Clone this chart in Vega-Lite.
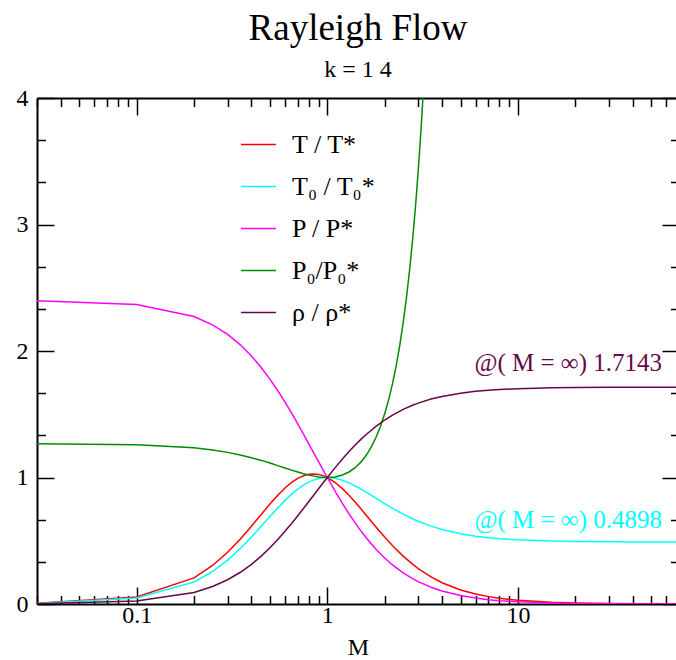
{
  "$schema": "https://vega.github.io/schema/vega-lite/v6.json",
  "width": 642,
  "height": 506,
  "autosize": "none",
  "padding": {"left": 37, "top": 98, "right": 0, "bottom": 60},
  "background": "white",
  "title": {
    "text": "Rayleigh Flow",
    "subtitle": "k = 1 4",
    "font": "Liberation Serif",
    "fontSize": 37,
    "fontWeight": "normal",
    "color": "black",
    "subtitleFont": "Liberation Serif",
    "subtitleFontSize": 24,
    "subtitleColor": "black",
    "anchor": "middle",
    "offset": 3,
    "subtitlePadding": 10
  },
  "config": {
    "view": {"stroke": null},
    "axis": {
      "grid": false,
      "domainColor": "black",
      "domainWidth": 2,
      "tickColor": "black",
      "tickWidth": 1.5,
      "labelFont": "Liberation Serif",
      "labelFontSize": 24,
      "labelColor": "black",
      "labelOverlap": false,
      "labelFlush": false,
      "titleFont": "Liberation Serif",
      "titleFontSize": 24,
      "titleFontWeight": "normal",
      "titleColor": "black"
    },
    "legend": {
      "orient": "none",
      "legendX": 203,
      "legendY": 28,
      "padding": 0,
      "symbolType": "stroke",
      "symbolSize": 1225,
      "symbolStrokeWidth": 1.5,
      "labelFont": "Liberation Serif",
      "labelFontSize": 26,
      "labelColor": "black",
      "labelOffset": 15,
      "rowPadding": 10,
      "labelLimit": 300
    }
  },
  "datasets": {
    "curves": [
      {"M": 0.03, "T / T*": 0.00517, "T₀ / T₀*": 0.00431, "P / P*": 2.39698, "P₀/P₀*": 1.26712, "ρ / ρ*": 0.00216},
      {"M": 0.1, "T / T*": 0.05602, "T₀ / T₀*": 0.04678, "P / P*": 2.36686, "P₀/P₀*": 1.2592, "ρ / ρ*": 0.02367},
      {"M": 0.2, "T / T*": 0.20661, "T₀ / T₀*": 0.17355, "P / P*": 2.27273, "P₀/P₀*": 1.23459, "ρ / ρ*": 0.09091},
      {"M": 0.25, "T / T*": 0.3044, "T₀ / T₀*": 0.25684, "P / P*": 2.2069, "P₀/P₀*": 1.2177, "ρ / ρ*": 0.13793},
      {"M": 0.3, "T / T*": 0.40887, "T₀ / T₀*": 0.34686, "P / P*": 2.13144, "P₀/P₀*": 1.1986, "ρ / ρ*": 0.19183},
      {"M": 0.35, "T / T*": 0.51413, "T₀ / T₀*": 0.43894, "P / P*": 2.04866, "P₀/P₀*": 1.17792, "ρ / ρ*": 0.25096},
      {"M": 0.4, "T / T*": 0.61515, "T₀ / T₀*": 0.52903, "P / P*": 1.96078, "P₀/P₀*": 1.15653, "ρ / ρ*": 0.31373},
      {"M": 0.45, "T / T*": 0.70804, "T₀ / T₀*": 0.61393, "P / P*": 1.86989, "P₀/P₀*": 1.13512, "ρ / ρ*": 0.37865},
      {"M": 0.5, "T / T*": 0.79012, "T₀ / T₀*": 0.69136, "P / P*": 1.77778, "P₀/P₀*": 1.11408, "ρ / ρ*": 0.44444},
      {"M": 0.55, "T / T*": 0.85987, "T₀ / T₀*": 0.75991, "P / P*": 1.68599, "P₀/P₀*": 1.09401, "ρ / ρ*": 0.51001},
      {"M": 0.6, "T / T*": 0.9167, "T₀ / T₀*": 0.81892, "P / P*": 1.59574, "P₀/P₀*": 1.07527, "ρ / ρ*": 0.57447},
      {"M": 0.65, "T / T*": 0.96081, "T₀ / T₀*": 0.86833, "P / P*": 1.50801, "P₀/P₀*": 1.05823, "ρ / ρ*": 0.63714},
      {"M": 0.7, "T / T*": 0.9929, "T₀ / T₀*": 0.9085, "P / P*": 1.42349, "P₀/P₀*": 1.04311, "ρ / ρ*": 0.69751},
      {"M": 0.75, "T / T*": 1.01404, "T₀ / T₀*": 0.9401, "P / P*": 1.34266, "P₀/P₀*": 1.03009, "ρ / ρ*": 0.75524},
      {"M": 0.8, "T / T*": 1.02548, "T₀ / T₀*": 0.96395, "P / P*": 1.26582, "P₀/P₀*": 1.01934, "ρ / ρ*": 0.81013},
      {"M": 0.85, "T / T*": 1.02854, "T₀ / T₀*": 0.98097, "P / P*": 1.19314, "P₀/P₀*": 1.01091, "ρ / ρ*": 0.86204},
      {"M": 0.9, "T / T*": 1.02452, "T₀ / T₀*": 0.99207, "P / P*": 1.12465, "P₀/P₀*": 1.00486, "ρ / ρ*": 0.91097},
      {"M": 0.95, "T / T*": 1.01463, "T₀ / T₀*": 0.99814, "P / P*": 1.06031, "P₀/P₀*": 1.00122, "ρ / ρ*": 0.95693},
      {"M": 1, "T / T*": 1, "T₀ / T₀*": 1, "P / P*": 1, "P₀/P₀*": 1, "ρ / ρ*": 1},
      {"M": 1.1, "T / T*": 0.96031, "T₀ / T₀*": 0.99392, "P / P*": 0.89087, "P₀/P₀*": 1.00487, "ρ / ρ*": 1.07795},
      {"M": 1.2, "T / T*": 0.91185, "T₀ / T₀*": 0.97872, "P / P*": 0.79576, "P₀/P₀*": 1.01942, "ρ / ρ*": 1.14589},
      {"M": 1.3, "T / T*": 0.85917, "T₀ / T₀*": 0.95798, "P / P*": 0.71301, "P₀/P₀*": 1.04366, "ρ / ρ*": 1.20499},
      {"M": 1.4, "T / T*": 0.80538, "T₀ / T₀*": 0.93425, "P / P*": 0.64103, "P₀/P₀*": 1.07767, "ρ / ρ*": 1.25641},
      {"M": 1.5, "T / T*": 0.75251, "T₀ / T₀*": 0.90928, "P / P*": 0.57831, "P₀/P₀*": 1.12155, "ρ / ρ*": 1.3012},
      {"M": 1.6, "T / T*": 0.70173, "T₀ / T₀*": 0.88419, "P / P*": 0.52356, "P₀/P₀*": 1.1756, "ρ / ρ*": 1.34031},
      {"M": 1.7, "P₀/P₀*": 1.24026},
      {"M": 1.8, "T / T*": 0.60894, "T₀ / T₀*": 0.83628, "P / P*": 0.43353, "P₀/P₀*": 1.31592, "ρ / ρ*": 1.40462},
      {"M": 1.9, "P₀/P₀*": 1.40325},
      {"M": 2, "T / T*": 0.52893, "T₀ / T₀*": 0.79339, "P / P*": 0.36364, "P₀/P₀*": 1.5031, "ρ / ρ*": 1.45455},
      {"M": 2.1, "P₀/P₀*": 1.61617},
      {"M": 2.2, "T / T*": 0.46106, "T₀ / T₀*": 0.75613, "P / P*": 0.30864, "P₀/P₀*": 1.74344, "ρ / ρ*": 1.49383},
      {"M": 2.3, "P₀/P₀*": 1.88601},
      {"M": 2.4, "P₀/P₀*": 2.045},
      {"M": 2.5, "T / T*": 0.3787, "T₀ / T₀*": 0.71006, "P / P*": 0.24615, "P₀/P₀*": 2.2217, "ρ / ρ*": 1.53846},
      {"M": 2.6, "P₀/P₀*": 2.41776},
      {"M": 2.7, "P₀/P₀*": 2.63446},
      {"M": 2.8, "T / T*": 0.31486, "T₀ / T₀*": 0.6738, "P / P*": 0.2004, "P₀/P₀*": 2.8733, "ρ / ρ*": 1.57114},
      {"M": 2.9, "P₀/P₀*": 3.1361},
      {"M": 3, "T / T*": 0.28028, "T₀ / T₀*": 0.65398, "P / P*": 0.17647, "P₀/P₀*": 3.42468, "ρ / ρ*": 1.58824},
      {"M": 3.1, "P₀/P₀*": 3.741},
      {"M": 3.2, "P₀/P₀*": 4.088},
      {"M": 3.5, "T / T*": 0.21419, "T₀ / T₀*": 0.6158, "P / P*": 0.13223, "ρ / ρ*": 1.61983},
      {"M": 4, "T / T*": 0.16831, "T₀ / T₀*": 0.58909, "P / P*": 0.10256, "ρ / ρ*": 1.64103},
      {"M": 5, "T / T*": 0.11111, "T₀ / T₀*": 0.55556, "P / P*": 0.06667, "ρ / ρ*": 1.66667},
      {"M": 6, "T / T*": 0.07849, "T₀ / T₀*": 0.53633, "P / P*": 0.04669, "ρ / ρ*": 1.68093},
      {"M": 7, "T / T*": 0.05826, "T₀ / T₀*": 0.52438, "P / P*": 0.03448, "ρ / ρ*": 1.68966},
      {"M": 8, "T / T*": 0.04491, "T₀ / T₀*": 0.51647, "P / P*": 0.02649, "ρ / ρ*": 1.69536},
      {"M": 10, "T / T*": 0.02897, "T₀ / T₀*": 0.50702, "P / P*": 0.01702, "ρ / ρ*": 1.70213},
      {"M": 15, "T / T*": 0.01298, "T₀ / T₀*": 0.49752, "P / P*": 0.00759, "ρ / ρ*": 1.70886},
      {"M": 20, "T / T*": 0.00732, "T₀ / T₀*": 0.49415, "P / P*": 0.00428, "ρ / ρ*": 1.71123},
      {"M": 30, "T / T*": 0.00326, "T₀ / T₀*": 0.49173, "P / P*": 0.0019, "ρ / ρ*": 1.71293},
      {"M": 45, "T / T*": 0.00145, "T₀ / T₀*": 0.49066, "P / P*": 0.00085, "ρ / ρ*": 1.71368},
      {"M": 70, "T / T*": 0.0006, "T₀ / T₀*": 0.49015, "P / P*": 0.00035, "ρ / ρ*": 1.71404}
    ],
    "notes": [
      {"M": 57, "value": 1.838, "series": "ρ / ρ*", "label": "@( M = ∞) 1.7143"},
      {"M": 57, "value": 0.604, "series": "T₀ / T₀*", "label": "@( M = ∞) 0.4898"}
    ]
  },
  "layer": [
    {
      "data": {"name": "curves"},
      "transform": [
        {"fold": ["T / T*", "T₀ / T₀*", "P / P*", "P₀/P₀*", "ρ / ρ*"], "as": ["series", "value"]},
        {"filter": "isValid(datum.value)"}
      ],
      "mark": {"type": "line", "clip": true, "strokeWidth": 1.5},
      "encoding": {
        "x": {
          "field": "M",
          "type": "quantitative",
          "scale": {"type": "log", "domain": [0.03, 70], "nice": false},
          "axis": {
            "orient": "bottom",
            "title": "M",
            "values": [0.03, 0.04, 0.05, 0.06, 0.07, 0.08, 0.09, 0.1, 0.2, 0.3, 0.4, 0.5, 0.6, 0.7, 0.8, 0.9, 1, 2, 3, 4, 5, 6, 7, 8, 9, 10, 20, 30, 40, 50, 60, 70],
            "labelExpr": "(datum.value == 0.1 || datum.value == 1 || datum.value == 10) ? '' + datum.value : ''",
            "tickSize": {"condition": {"test": "datum.value == 0.1 || datum.value == 1 || datum.value == 10", "value": -17}, "value": -8.5},
            "labelPadding": 16,
            "titlePadding": 0
          }
        },
        "y": {
          "field": "value",
          "type": "quantitative",
          "scale": {"domain": [0, 4], "nice": false, "zero": false},
          "axis": {
            "orient": "left",
            "title": null,
            "values": [0, 0.3333333, 0.6666667, 1, 1.3333333, 1.6666667, 2, 2.3333333, 2.6666667, 3, 3.3333333, 3.6666667, 4],
            "labelExpr": "datum.value % 1 == 0 ? '' + datum.value : ''",
            "tickSize": {"condition": {"test": "datum.value % 1 == 0", "value": -17}, "value": -8.5},
            "labelPadding": 26
          }
        },
        "color": {
          "field": "series",
          "type": "nominal",
          "scale": {
            "domain": ["T / T*", "T₀ / T₀*", "P / P*", "P₀/P₀*", "ρ / ρ*"],
            "range": ["#ff0000", "#00ffff", "#ff00ff", "#008b00", "#670748"]
          },
          "legend": {"title": null}
        }
      }
    },
    {
      "data": {"name": "notes"},
      "mark": {"type": "text", "align": "right", "baseline": "alphabetic", "font": "Liberation Serif", "fontSize": 25},
      "encoding": {
        "x": {
          "field": "M",
          "type": "quantitative",
          "scale": {"type": "log", "domain": [0.03, 70], "nice": false},
          "axis": {
            "orient": "top",
            "title": null,
            "labels": false,
            "values": [0.03, 0.04, 0.05, 0.06, 0.07, 0.08, 0.09, 0.1, 0.2, 0.3, 0.4, 0.5, 0.6, 0.7, 0.8, 0.9, 1, 2, 3, 4, 5, 6, 7, 8, 9, 10, 20, 30, 40, 50, 60, 70],
            "tickSize": {"condition": {"test": "datum.value == 0.1 || datum.value == 1 || datum.value == 10", "value": -17}, "value": -8.5}
          }
        },
        "y": {
          "field": "value",
          "type": "quantitative",
          "scale": {"domain": [0, 4], "nice": false, "zero": false},
          "axis": {
            "orient": "right",
            "title": null,
            "labels": false,
            "values": [0, 0.3333333, 0.6666667, 1, 1.3333333, 1.6666667, 2, 2.3333333, 2.6666667, 3, 3.3333333, 3.6666667, 4],
            "tickSize": {"condition": {"test": "datum.value % 1 == 0", "value": -17}, "value": -8.5}
          }
        },
        "text": {"field": "label"},
        "color": {"field": "series", "type": "nominal"}
      }
    }
  ],
  "resolve": {"axis": {"x": "independent", "y": "independent"}}
}
